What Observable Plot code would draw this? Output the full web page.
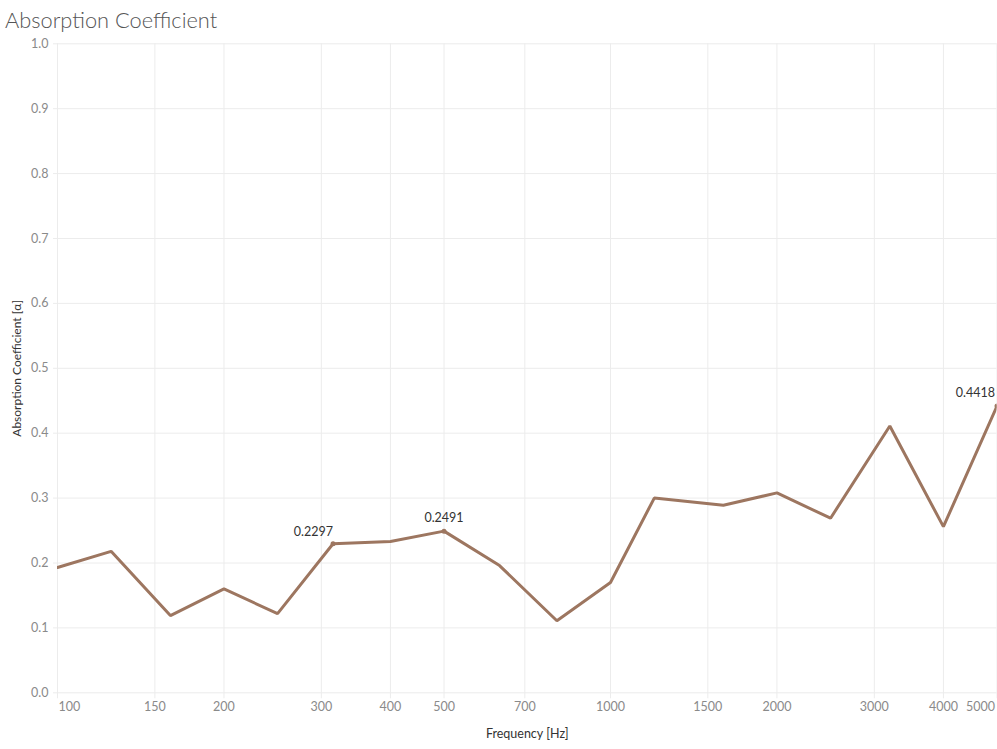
<!DOCTYPE html>
<html>
<head>
<meta charset="utf-8">
<script src="https://cdn.jsdelivr.net/npm/d3@7"></script>
<script src="https://cdn.jsdelivr.net/npm/@observablehq/plot@0.6"></script>
<style>
  html, body { margin: 0; padding: 0; background: #fff; }
  #title { font-family: Lato, sans-serif; font-weight: 300; font-size: 21.8px; color: #555; height: 33px; line-height: 33px; padding-top: 3px; padding-left: 5px; white-space: nowrap; }
  #chart svg { display: block; }
</style>
</head>
<body>
<div id="title">Absorption Coefficient</div>
<div id="chart"></div>
<script>
const frequencies = [100, 125, 160, 200, 250, 315, 400, 500, 630, 800, 1000, 1200, 1600, 2000, 2500, 3200, 4000, 5000];
const alpha = [0.193, 0.218, 0.119, 0.160, 0.122, 0.2297, 0.233, 0.2491, 0.196, 0.111, 0.170, 0.300, 0.289, 0.308, 0.269, 0.411, 0.256, 0.4418];
const labelledFrequencies = [315, 500, 5000];
const xTickValues = [100, 150, 200, 300, 400, 500, 700, 1000, 1500, 2000, 3000, 4000, 5000];
const yTickValues = [0, 0.1, 0.2, 0.3, 0.4, 0.5, 0.6, 0.7, 0.8, 0.9, 1.0];
const xTitle = "Frequency [Hz]";
const yTitle = "Absorption Coefficient [α]";

const data = frequencies.map((f, i) => ({f, a: alpha[i]}));
const labelled = data.filter(d => labelledFrequencies.includes(d.f));

const gridColor = "#ececec";
const tickColor = "#8a8a8a";
const lineColor = "#9d7660";
const font = "Lato, sans-serif";

const chart = Plot.plot({
  width: 997,
  height: 713,
  marginLeft: 57,
  marginRight: 0.5,
  marginTop: 7.3,
  marginBottom: 56.7,
  style: {fontFamily: font, fontSize: "12px", background: "#fff", overflow: "visible"},
  x: {type: "log", domain: [100, 5000]},
  y: {domain: [0, 1]},
  marks: [
    Plot.ruleY(yTickValues, {y: d => d, stroke: gridColor, strokeWidth: 1, insetLeft: -4}),
    Plot.ruleX(xTickValues, {x: d => d, stroke: gridColor, strokeWidth: 1, insetBottom: -6}),
    Plot.axisY(yTickValues, {tickSize: 0, tickPadding: 9, tickFormat: d3.format(".1f"), fill: tickColor, fontSize: 12.5, label: null}),
    Plot.axisX([100], {tickSize: 0, tickPadding: 9, textAnchor: "start", dx: 1, fill: tickColor, fontSize: 12.5, label: null}),
    Plot.axisX(xTickValues.slice(1, -1), {tickSize: 0, tickPadding: 9, fill: tickColor, fontSize: 12.5, tickFormat: d3.format("d"), label: null}),
    Plot.axisX([5000], {tickSize: 0, tickPadding: 9, textAnchor: "end", dx: -2, fill: tickColor, fontSize: 12.5, tickFormat: d3.format("d"), label: null}),
    Plot.text([yTitle], {frameAnchor: "left", rotate: -90, textAnchor: "middle", dx: -40, text: d => d, fill: "#333", fontSize: 12}),
    Plot.text([xTitle], {frameAnchor: "bottom", dy: 45, text: d => d, fill: "#333", fontSize: 12.5}),
    Plot.line(data, {x: "f", y: "a", stroke: lineColor, strokeWidth: 3, strokeLinejoin: "miter", clip: true}),
    Plot.dot(labelled, {x: "f", y: "a", r: 2.5, fill: lineColor, stroke: null, clip: true}),
    Plot.text(labelled.filter(d => d.f === 315), {x: "f", y: "a", text: d => d.a.toFixed(4), textAnchor: "end", dx: 0, dy: -12, fill: "#333", fontSize: 12.5}),
    Plot.text(labelled.filter(d => d.f === 500), {x: "f", y: "a", text: d => d.a.toFixed(4), dy: -13, fill: "#333", fontSize: 12.5}),
    Plot.text(labelled.filter(d => d.f === 5000), {x: "f", y: "a", text: d => d.a.toFixed(4), textAnchor: "end", dx: -2, dy: -13, fill: "#333", fontSize: 12.5})
  ]
});
document.getElementById("chart").appendChild(chart);
</script>
</body>
</html>
